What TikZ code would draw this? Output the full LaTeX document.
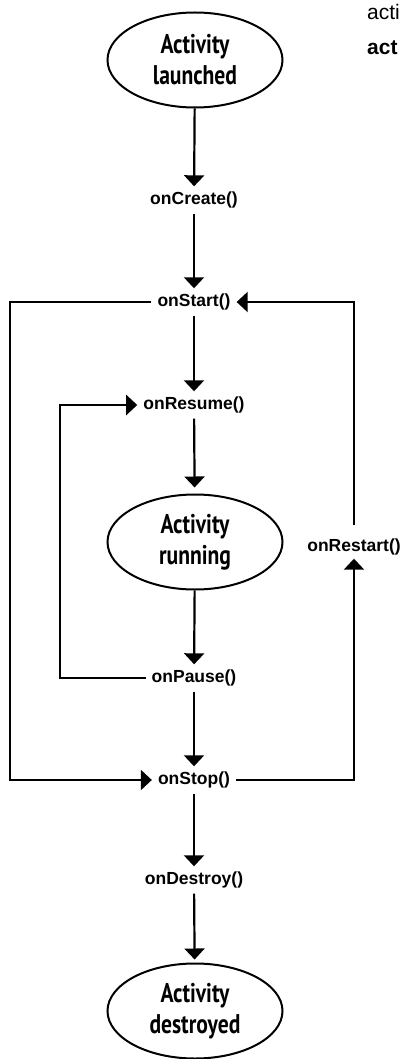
\documentclass[tikz,border=0pt]{standalone}
\usepackage{fontspec}
\setmainfont{Liberation Sans}
\newfontfamily\handfont[FakeStretch=0.8]{PT Sans}
\usetikzlibrary{arrows.meta, positioning, shapes.geometric}

\begin{document}
\begin{tikzpicture}[x=1pt, y=-1pt,
    state/.style={draw, ellipse, line width=2pt, minimum width=175pt, minimum height=95pt, inner sep=0pt, align=center, font=\handfont\bfseries\fontsize{27}{31}\selectfont},
    call/.style={inner xsep=6pt, inner ysep=6pt, text height=12pt, text depth=3pt, font=\bfseries\fontsize{17.5}{20}\selectfont},
    flow/.style={-{Triangle[length=11pt, width=20pt]}, line width=2.2pt},
    ]
    \useasboundingbox (0,0) rectangle (402,1059);
    \clip (0,0) rectangle (402,1059);

    % side text
    \node[anchor=base west, inner sep=0pt, font=\fontsize{21}{24}\selectfont] (side1) at (367,20) {acti};
    \node[anchor=base west, inner sep=0pt, font=\bfseries\fontsize{21}{24}\selectfont] (side2) at (367,55) {act};

    % States
    \node[state] (launched) at (195,60) {Activity\\launched};
    \node[state] (running) at (195,542) {Activity\\running};
    \node[state] (destroyed) at (195,1011) {Activity\\destroyed};

    % Callbacks
    \node[call] (oncreate) at (194,200) {onCreate()};
    \node[call] (onstart) at (194,302) {onStart()};
    \node[call] (onresume) at (194,405) {onResume()};
    \node[call] (onpause) at (194,678) {onPause()};
    \node[call] (onstop) at (194,780) {onStop()};
    \node[call] (ondestroy) at (194,880) {onDestroy()};
    \node[call] (onrestart) at (354,547) {onRestart()};

    % Rails for the loops
    \coordinate (outerrail) at (10,0);
    \coordinate (innerrail) at (60,0);

    % Main line
    \draw[flow] (launched) -- (oncreate);
    \draw[flow] (oncreate) -- (onstart);
    \draw[flow] (onstart) -- (onresume);
    \draw[flow, shorten >=6pt] (onresume) -- (running);
    \draw[flow] (running) -- (onpause);
    \draw[flow] (onpause) -- (onstop);
    \draw[flow] (onstop) -- (ondestroy);
    \draw[flow, shorten >=3pt] (ondestroy) -- (destroyed);

    % Loops
    \draw[flow] (onstart.west) -- (onstart.west -| outerrail) |- (onstop.west);
    \draw[flow] (onpause.west) -- (onpause.west -| innerrail) |- (onresume.west);
    \draw[flow, shorten >=-2pt] (onstop.east) -| (onrestart.south);
    \draw[flow, shorten <=8pt] (onrestart.north) |- (onstart.east);
\end{tikzpicture}
\end{document}
